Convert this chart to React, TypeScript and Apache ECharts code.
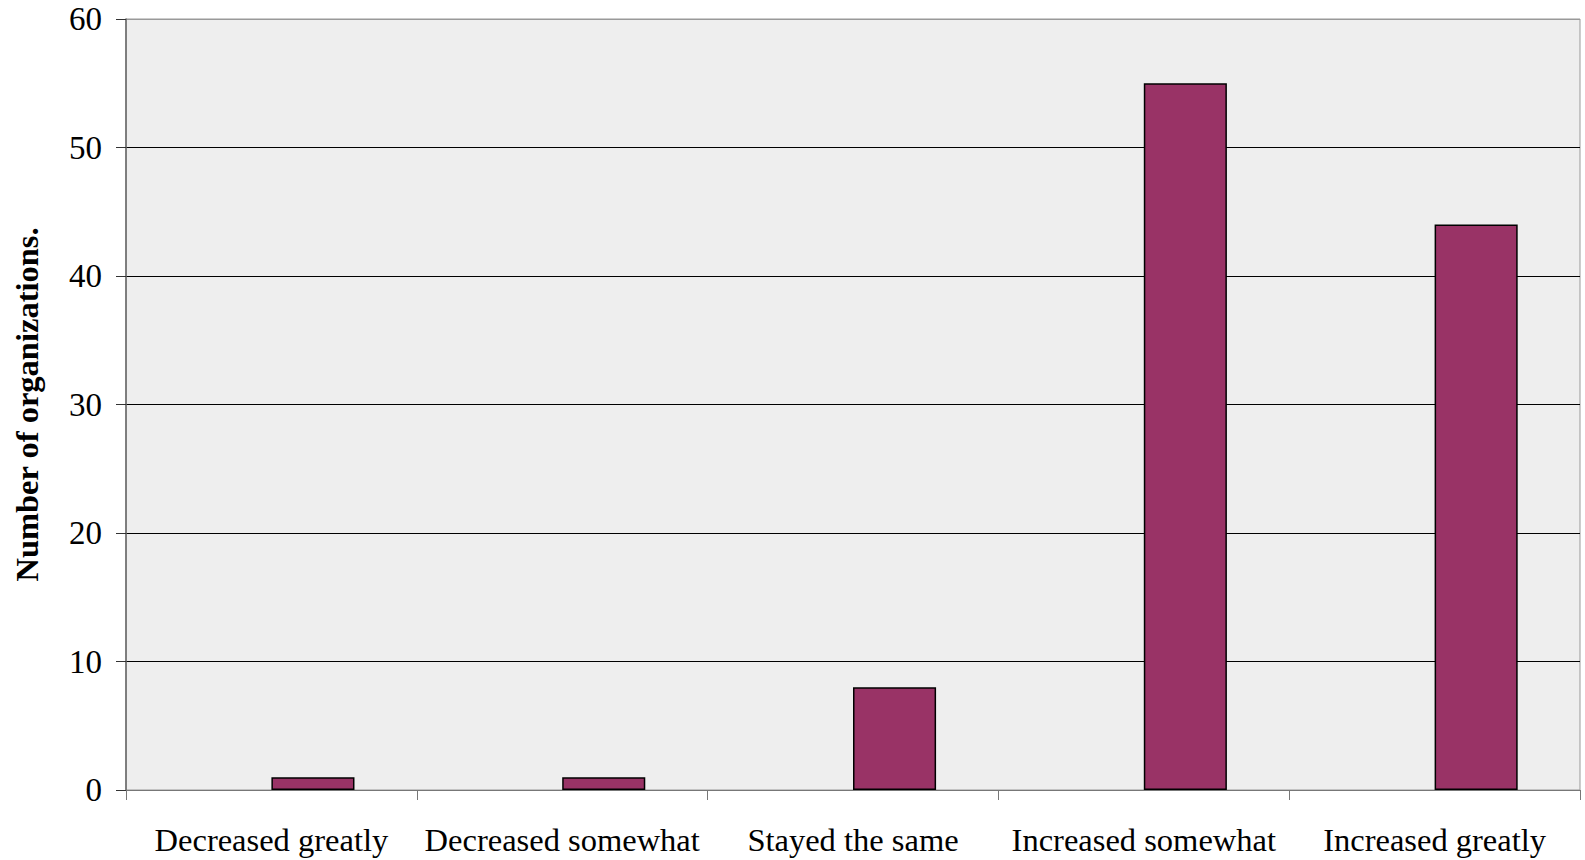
import React, { useEffect, useRef } from "react";
import * as echarts from "echarts";

const categories = [
  "Decreased greatly",
  "Decreased somewhat",
  "Stayed the same",
  "Increased somewhat",
  "Increased greatly",
];
const emptySeries = [null, null, null, null, null];
const organizations = [1, 1, 8, 55, 44];
const yTicks = { min: 0, max: 60, interval: 10 };
const yAxisTitle = "Number of organizations.";

const FONT = "'Liberation Serif', 'Times New Roman', serif";

export default function App() {
  const ref = useRef<HTMLDivElement>(null);
  useEffect(() => {
    document.body.style.margin = "0";
    const chart = echarts.init(ref.current!, null, { renderer: "svg" });
    chart.setOption({
      animation: false,
      backgroundColor: "#ffffff",
      textStyle: { fontFamily: FONT },
      grid: {
        left: 126,
        right: 5,
        top: 19,
        bottom: 70,
        containLabel: false,
        outerBoundsMode: "none",
        show: true,
        backgroundColor: "#EEEEEE",
        borderColor: "#999999",
        borderWidth: 1,
      },
      xAxis: {
        type: "category",
        data: categories,
        axisLine: { lineStyle: { color: "#777777", width: 1 } },
        axisTick: { show: true, interval: 0, length: 10, lineStyle: { color: "#777777" } },
        axisLabel: {
          interval: 0,
          color: "#000000",
          fontFamily: FONT,
          fontSize: 32.5,
          margin: 33,
        },
        splitLine: { show: false },
      },
      yAxis: {
        type: "value",
        min: yTicks.min,
        max: yTicks.max,
        interval: yTicks.interval,
        name: yAxisTitle,
        nameLocation: "middle",
        nameGap: 83,
        nameTextStyle: {
          color: "#000000",
          fontFamily: FONT,
          fontSize: 32.5,
          fontWeight: "bold",
        },
        axisLine: { show: true, lineStyle: { color: "#666666", width: 1.5 } },
        axisTick: { show: true, length: 10, lineStyle: { color: "#333333" } },
        axisLabel: {
          color: "#000000",
          fontFamily: FONT,
          fontSize: 33,
          margin: 24,
        },
        splitLine: {
          show: true,
          lineStyle: {
            color: ["#777777", "#000000", "#000000", "#000000", "#000000", "#000000", "#999999"],
            width: 1,
          },
        },
      },
      series: [
        {
          type: "bar",
          data: emptySeries,
          barGap: "0%",
          barCategoryGap: "42.857%",
          itemStyle: { color: "#993366" },
        },
        {
          type: "bar",
          data: organizations,
          barGap: "0%",
          barCategoryGap: "42.857%",
          itemStyle: { color: "#993366", borderColor: "#000000", borderWidth: 1.5 },
        },
      ],
    });
    return () => chart.dispose();
  }, []);
  return (
    <div
      ref={ref}
      style={{ position: "absolute", left: 0, top: 0, width: 1585, height: 860 }}
    />
  );
}
